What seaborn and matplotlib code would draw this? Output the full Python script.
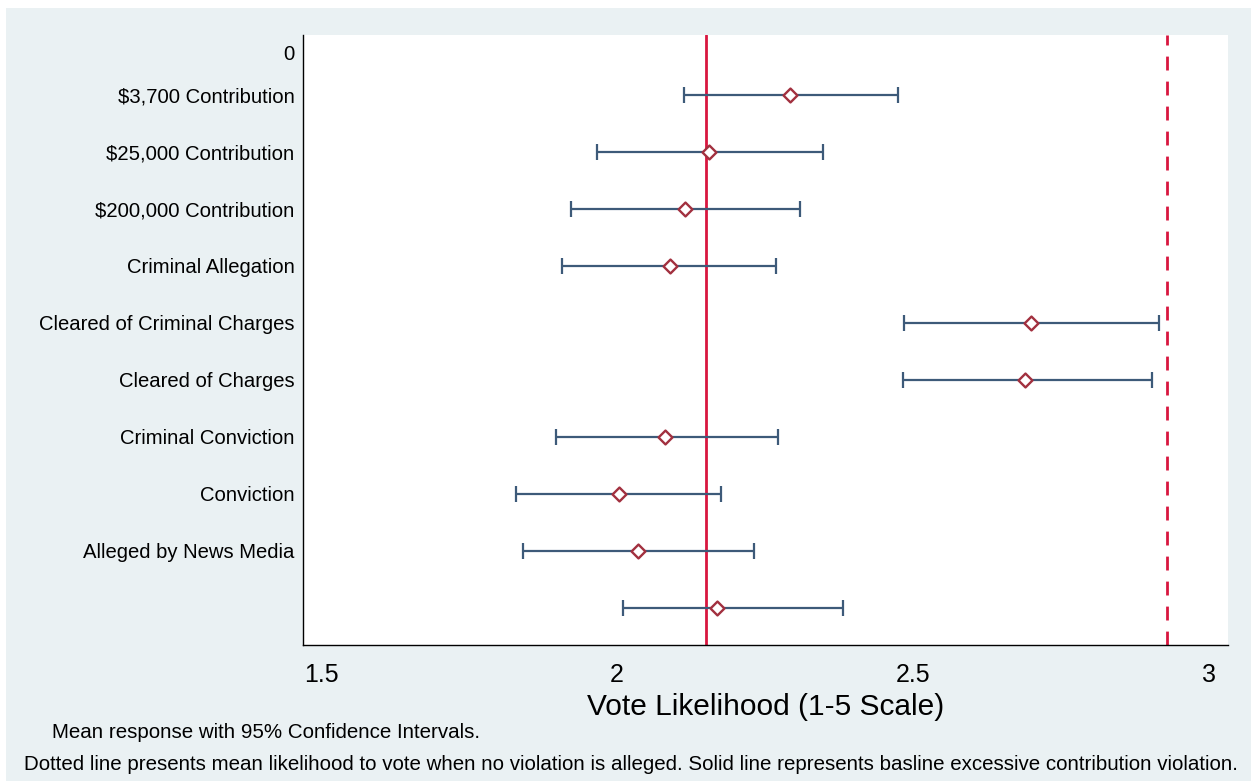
import numpy as np
import pandas as pd
import matplotlib
matplotlib.use("Agg")
import matplotlib.pyplot as plt
from matplotlib.patches import Rectangle
import seaborn as sns

# Data (mean + 95% CI)
conditions = ['$3,700 Contribution', '$25,000 Contribution', '$200,000 Contribution',
              'Criminal Allegation', 'Cleared of Criminal Charges', 'Cleared of Charges',
              'Criminal Conviction', 'Conviction', 'Alleged by News Media', '']
means = [2.292, 2.155, 2.115, 2.090, 2.699, 2.689, 2.081, 2.003, 2.035, 2.169]
ci_low = [2.113, 1.966, 1.922, 1.907, 2.485, 2.483, 1.897, 1.829, 1.841, 2.010]
ci_high = [2.475, 2.348, 2.309, 2.269, 2.916, 2.904, 2.272, 2.176, 2.231, 2.382]
row_pos = [1, 2, 3, 4, 5, 6, 7, 8, 9, 10]

baseline = 2.150      # solid line
no_violation = 2.929  # dashed line

x_ticks = [1.5, 2, 2.5, 3]
x_tick_labels = ['1.5', '2', '2.5', '3']

df = pd.DataFrame({'condition': conditions, 'mean': means,
                   'lo': ci_low, 'hi': ci_high, 'row': row_pos})

sns.set_style('white')
plt.rcParams['font.family'] = ['Liberation Sans', 'DejaVu Sans']
plt.rcParams['text.color'] = 'black'
plt.rcParams['axes.labelcolor'] = 'black'
plt.rcParams['xtick.color'] = 'black'
plt.rcParams['ytick.color'] = 'black'

bg = '#eaf1f3'
fig = plt.figure(figsize=(12.51, 7.81), dpi=100, facecolor='white')
fig.patches.append(Rectangle((6 / 1251, 0), 1 - 6 / 1251, 1 - 8 / 781,
                             transform=fig.transFigure, facecolor=bg,
                             edgecolor='none', zorder=-10))
ax = fig.add_axes([303 / 1251, 1 - 645 / 781, (1228 - 303) / 1251, (645 - 35) / 781])
ax.set_facecolor('white')

# reference lines
ax.axvline(baseline, color='#d8163f', lw=2, zorder=1)
ax.axvline(no_violation, color='#d8163f', lw=2, ls=(0, (5, 4)), zorder=1)

# confidence intervals
ax.errorbar(df['mean'], df['row'],
            xerr=[df['mean'] - df['lo'], df['hi'] - df['mean']],
            fmt='none', ecolor='#3d5a79', elinewidth=1.6, capsize=6, capthick=1.6, zorder=2)

# means
sns.scatterplot(data=df, x='mean', y='row', marker='D', s=50,
                facecolor='white', edgecolor='#a2303f', linewidth=1.7, ax=ax, zorder=3)

ax.set_xlim(1.4696, 3.032)
ax.set_ylim(10.65, -0.05)
ax.set_xticks(x_ticks)
ax.set_xticklabels(x_tick_labels, fontsize=18)
ax.set_yticks([0.25] + row_pos)
ax.set_yticklabels(['0'] + conditions, fontsize=14.6)
ax.tick_params(axis='x', length=6, width=1, direction='out', pad=7)
ax.tick_params(axis='y', length=0, pad=6)
ax.set_xlabel('Vote Likelihood (1-5 Scale)', fontsize=21.5, labelpad=4)
ax.set_ylabel('')

for side in ['top', 'right']:
    ax.spines[side].set_visible(False)
for side in ['left', 'bottom']:
    ax.spines[side].set_color('black')
    ax.spines[side].set_linewidth(1)

fig.text(52 / 1251, 1 - 733 / 781, 'Mean response with 95% Confidence Intervals.',
         fontsize=14.8, va='center', ha='left')
fig.text(24 / 1251, 1 - 764 / 781,
         'Dotted line presents mean likelihood to vote when no violation is alleged. '
         'Solid line represents basline excessive contribution violation.',
         fontsize=14.8, va='center', ha='left')

fig.savefig('out.png', dpi=100, facecolor=fig.get_facecolor())
